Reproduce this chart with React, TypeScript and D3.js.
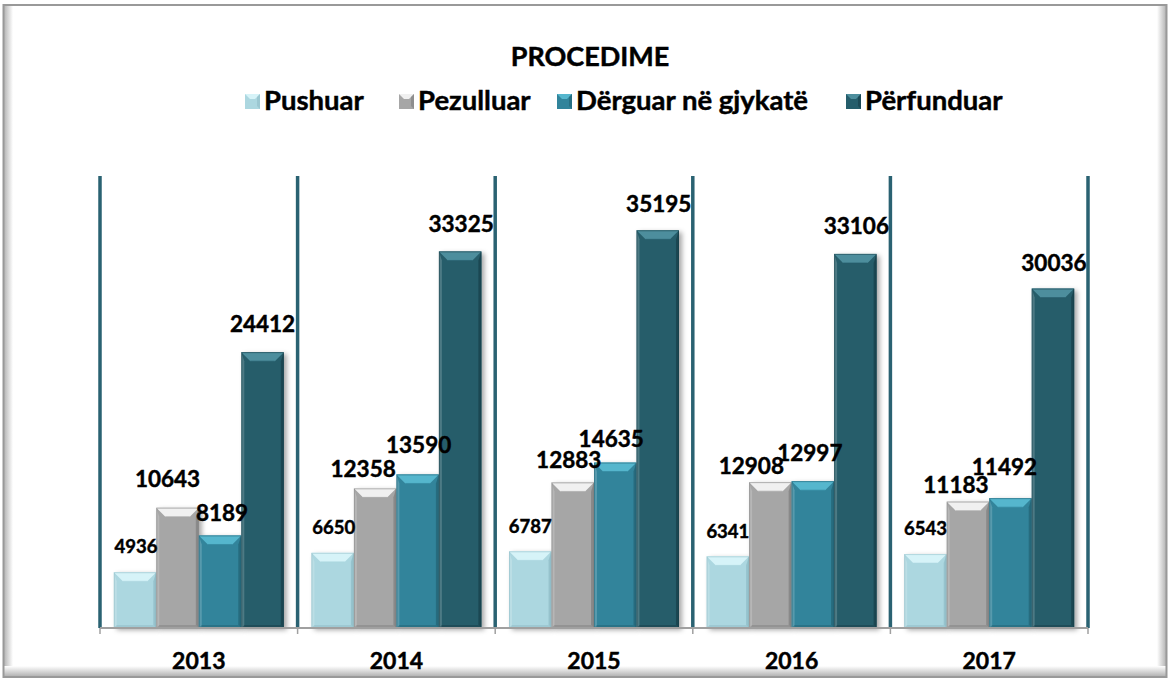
import React from 'react';
import * as d3 from 'd3';

// chart values
const years = ['2013', '2014', '2015', '2016', '2017'];
const seriesNames = ['Pushuar', 'Pezulluar', 'Dërguar në gjykatë', 'Përfunduar'];
const pushuar = [4936, 6650, 6787, 6341, 6543];
const pezulluar = [10643, 12358, 12883, 12908, 11183];
const derguar = [8189, 13590, 14635, 12997, 11492];
const perfunduar = [24412, 33325, 35195, 33106, 30036];
const seriesValues = [pushuar, pezulluar, derguar, perfunduar];

// colours per series: body, top bevel, dark edge
const palette = [
  { body: '#acd7e0', top: '#d6f3f8', edge: '#8fbcc6' },
  { body: '#a6a6a6', top: '#f0f0f0', edge: '#7f7f7f' },
  { body: '#31849b', top: '#55b6cd', edge: '#226273' },
  { body: '#255d6b', top: '#4d8e9d', edge: '#173e48' },
];

// hand placed data labels in the original (dx, dy in px from the default spot)
const labelNudge = [
  [[1, 0], [1, 0], [0, 1], [0, 1], [0, 0]],
  [[-10, -2], [-12, 8], [-4, 5], [-19, 11], [-12, 10]],
  [[2, 5], [1, -2], [-4, 3], [-3, -1], [-6, -4]],
  [[0, -1], [1, 0], [1, 1], [1, -1], [1, 1]],
];

const W = 1169;
const H = 680;
const font = 'Lato, "Noto Sans", sans-serif';

const legendPos = [
  { mx: 245, tx: 264 },
  { mx: 399, tx: 418 },
  { mx: 557, tx: 576 },
  { mx: 846, tx: 865 },
];

// bold text, a touch heavier like the original
const heavy = { fontFamily: font, fontWeight: 'bold' as const, fill: '#000', stroke: '#000', strokeWidth: 0.45 };

function Bar({ x, y, w, h, c }: { x: number; y: number; w: number; h: number; c: any }) {
  const b = Math.min(9, h / 2);
  const s = 3;
  return (
    <g>
      <rect x={x} y={y} width={w} height={h} fill={c.body} filter="url(#shadow)" />
      {/* left and right edges */}
      <polygon
        points={`${x},${y} ${x + s},${y + b} ${x + s},${y + h} ${x},${y + h}`}
        fill="#ffffff"
        opacity={0.18}
      />
      <polygon
        points={`${x + w},${y} ${x + w - s},${y + b} ${x + w - s},${y + h - s} ${x + w},${y + h}`}
        fill={c.edge}
        opacity={0.7}
      />
      <polygon
        points={`${x},${y + h} ${x + s},${y + h - s} ${x + w - s},${y + h - s} ${x + w},${y + h}`}
        fill={c.edge}
        opacity={0.5}
      />
      {/* top bevel */}
      <polygon
        points={`${x},${y} ${x + w},${y} ${x + w - b},${y + b} ${x + b},${y + b}`}
        fill={c.top}
      />
      <line x1={x + b} y1={y + b} x2={x + w - b} y2={y + b} stroke={c.body} strokeWidth={1} opacity={0.6} />
      <rect x={x + 0.5} y={y + 0.5} width={w - 1} height={h - 1} fill="none" stroke={c.edge} strokeWidth={1} opacity={0.5} />
    </g>
  );
}

export default function App() {
  const left = 100;
  const right = 1088;
  const top = 176;
  const base = 628;

  const x = d3.scaleBand<string>().domain(years).range([left, right]).padding(0);
  const inner = d3
    .scaleBand<string>()
    .domain(seriesNames)
    .range([0, x.bandwidth()])
    .paddingInner(0)
    .paddingOuter(0.325);
  const y = d3.scaleLinear().domain([0, 40000]).range([base, top]);

  const bounds = years.map((yr) => x(yr) as number).concat([right]);

  return (
    <svg width={W} height={H} style={{ position: 'absolute', left: 0, top: 0 }}>
      <defs>
        <filter id="shadow" x="-30%" y="-10%" width="170%" height="130%">
          <feDropShadow dx="3" dy="2" stdDeviation="2.5" floodColor="#000" floodOpacity="0.35" />
        </filter>
        <linearGradient id="edgeL" x1="0" x2="1" y1="0" y2="0">
          <stop offset="0" stopColor="#b4b4b4" />
          <stop offset="1" stopColor="#ffffff" />
        </linearGradient>
        <linearGradient id="edgeR" x1="1" x2="0" y1="0" y2="0">
          <stop offset="0" stopColor="#b4b4b4" />
          <stop offset="1" stopColor="#ffffff" />
        </linearGradient>
        <linearGradient id="edgeB" x1="0" x2="0" y1="1" y2="0">
          <stop offset="0" stopColor="#b4b4b4" />
          <stop offset="1" stopColor="#ffffff" />
        </linearGradient>
      </defs>

      {/* frame */}
      <rect x={0} y={0} width={W} height={H} fill="#ffffff" />
      <rect x={4} y={6} width={9} height={670} fill="url(#edgeL)" />
      <rect x={1157} y={6} width={9} height={670} fill="url(#edgeR)" />
      <rect x={4} y={666} width={1162} height={10} fill="url(#edgeB)" />
      <rect x={3.5} y={5} width={1163} height={672} fill="none" stroke="#999999" strokeWidth={2} />

      {/* title */}
      <text x={590} y={66} textAnchor="middle" fontSize={27} {...heavy}>
        PROCEDIME
      </text>

      {/* legend */}
      {seriesNames.map((name, i) => (
        <g key={name}>
          <rect x={legendPos[i].mx} y={94} width={15} height={15} fill={palette[i].body} />
          <polygon
            points={`${legendPos[i].mx},94 ${legendPos[i].mx + 15},94 ${legendPos[i].mx + 10},99 ${legendPos[i].mx + 5},99`}
            fill={palette[i].top}
          />
          <polygon
            points={`${legendPos[i].mx + 15},94 ${legendPos[i].mx + 15},109 ${legendPos[i].mx + 12},106 ${legendPos[i].mx + 12},97`}
            fill={palette[i].edge}
            opacity={0.6}
          />
          <text x={legendPos[i].tx} y={110} fontSize={27.5} {...heavy}>
            {name}
          </text>
        </g>
      ))}

      {/* category separators */}
      {bounds.map((bx, i) => (
        <g key={'sep' + i}>
          <line x1={bx} x2={bx} y1={base} y2={base + 6} stroke="#a0a0a0" strokeWidth={1.5} />
          <line x1={bx} x2={bx} y1={top} y2={base} stroke="#2a6272" strokeWidth={3.5} />
        </g>
      ))}

      {/* bars */}
      {seriesValues.map((vals, si) =>
        vals.map((v, yi) => {
          const bx = (x(years[yi]) as number) + (inner(seriesNames[si]) as number);
          const bw = inner.bandwidth();
          return <Bar key={si + '-' + yi} x={bx} y={y(v)} w={bw} h={base - y(v)} c={palette[si]} />;
        })
      )}

      {/* axis line */}
      <line x1={left} x2={right} y1={base} y2={base} stroke="#a0a0a0" strokeWidth={2} />

      {/* data labels */}
      {seriesValues.map((vals, si) =>
        vals.map((v, yi) => {
          const cx = (x(years[yi]) as number) + (inner(seriesNames[si]) as number) + inner.bandwidth() / 2;
          const [dx, dy] = labelNudge[si][yi];
          return (
            <text
              key={'l' + si + '-' + yi}
              x={cx + dx}
              y={y(v) - 19 + dy}
              textAnchor="middle"
              fontSize={si === 0 ? 18.5 : 22.5}
              {...heavy}
            >
              {v}
            </text>
          );
        })
      )}

      {/* category labels */}
      {years.map((yr) => (
        <text
          key={yr}
          x={(x(yr) as number) + x.bandwidth() / 2}
          y={669}
          textAnchor="middle"
          fontSize={23}
          {...heavy}
        >
          {yr}
        </text>
      ))}
    </svg>
  );
}
